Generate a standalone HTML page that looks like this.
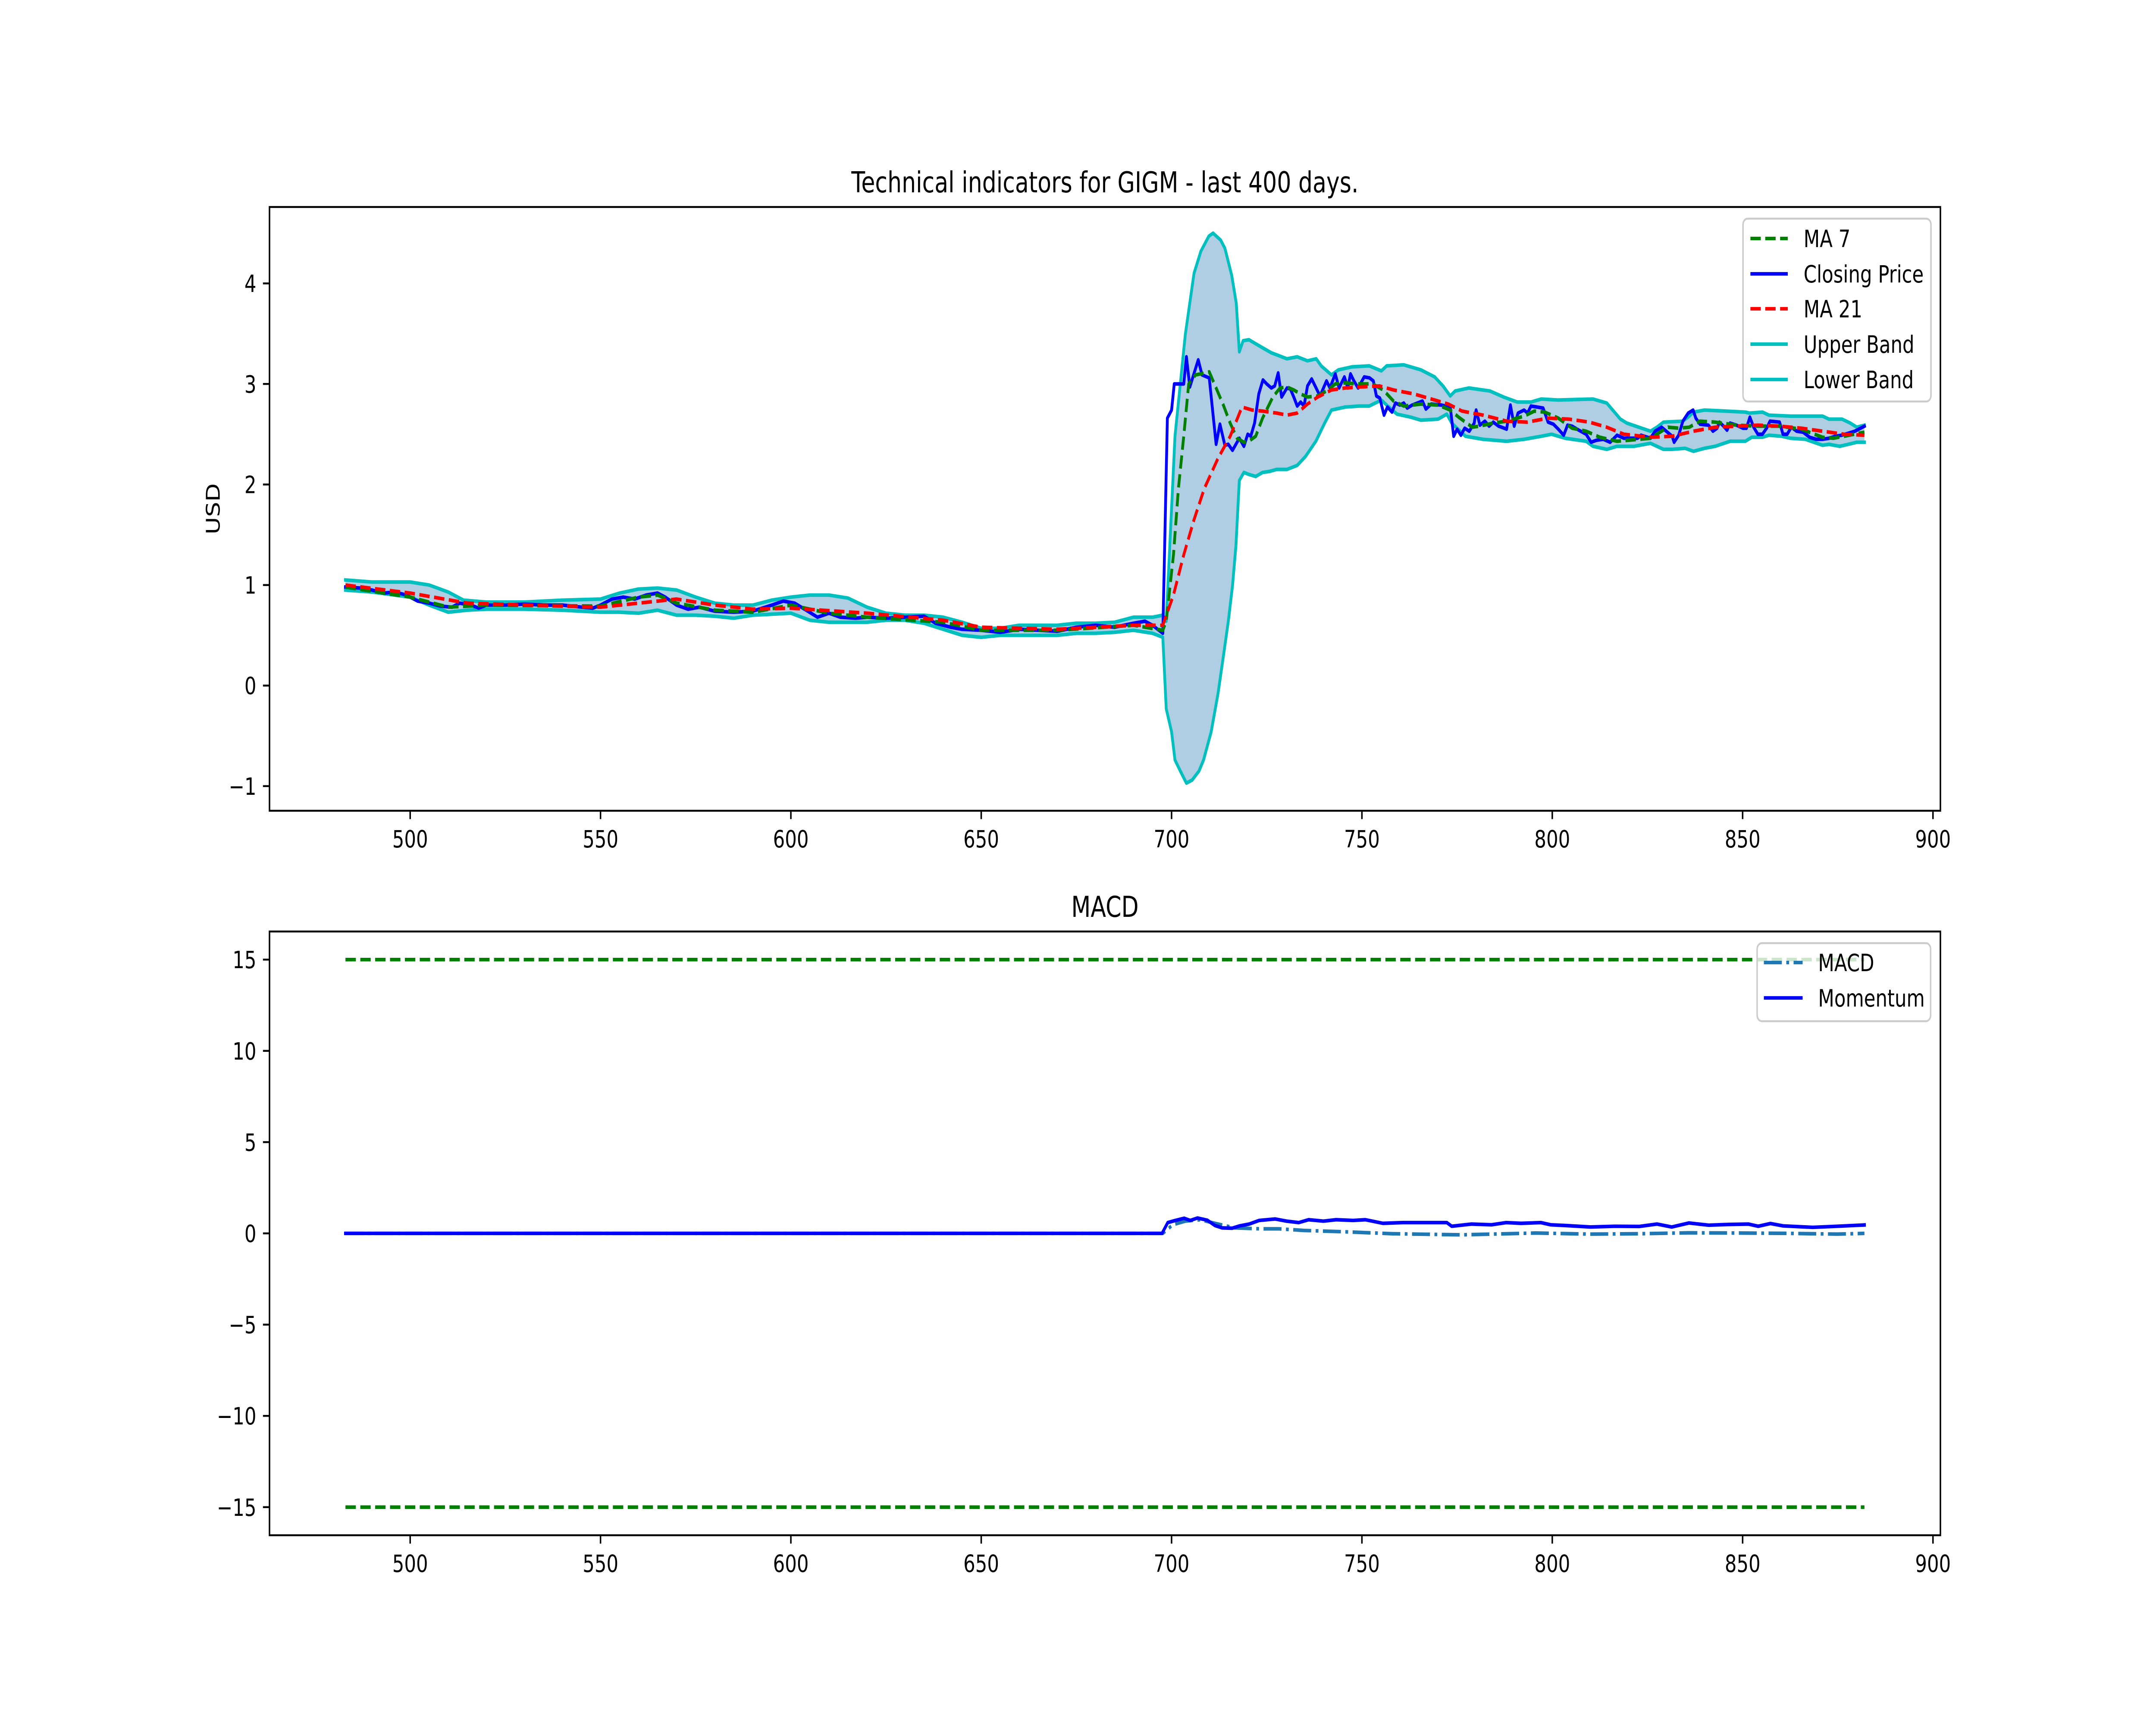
<!DOCTYPE html>
<html><head><meta charset="utf-8"><style>
html,body{margin:0;padding:0;background:#fff;overflow:hidden;width:100%;height:100%;}
svg{display:block;width:100vw;height:100vh;font-family:"DejaVu Sans","Liberation Sans",sans-serif;}
</style></head><body>
<svg id="fig" viewBox="0 0 6400 4000" preserveAspectRatio="none" xmlns="http://www.w3.org/2000/svg">
<rect x="0" y="0" width="6400" height="4000" fill="#fff"/>
<g id="topg"></g>
<g id="botg"></g>
</svg>
<script>
const closeDays=[483,487,490,493,496,499,502,505,508,511,513,516,518,520,525,530,535,540,545,548,550,553,556,559,562,565,567,570,573,576,580,585,590,595,598,601,604,607,610,613,617,620,625,630,635,638,642,645,650,655,660,665,670,675,680,685,690,693,695,697.7,698.9,700,700.7,703.2,703.9,704.8,707,708,709.9,711.7,712.7,714,714.9,716,717.8,719,720,720.8,721.8,722.9,724,725,726.2,727.1,728,728.9,730.3,731.2,732.1,733,733.9,734.8,735.7,736.8,739,740.7,741.6,743,744,745.4,746.3,747,747.9,749,750.6,752,753,753.8,754.7,755.8,756.7,757.9,758.8,760,761,761.9,763.2,765.9,766.8,768.2,770.9,773.2,774.1,775,776,777,778.2,779.5,780,781,782.3,783.4,784.5,785.9,786.7,788,789,790,791,792.6,793.5,794.4,796,797.6,798.9,800.3,801.6,803,804,805.2,807,808.9,810.2,811.6,813.4,815.2,817,818.8,822.4,823.3,825.8,827,828.7,831.5,832,833.2,834.3,835.7,837,837.7,838.8,841,842.2,843.3,843.9,845,845.9,846.7,848.4,850.1,851,851.9,852.9,854,855.2,856.3,857.2,859.7,860.6,861.7,862.8,864.2,865.9,867.6,869.3,871,872.7,874.4,876,877.8,879.5,882];
const closeVals=[0.98,0.97,0.95,0.92,0.93,0.9,0.84,0.82,0.79,0.78,0.82,0.8,0.77,0.8,0.8,0.81,0.8,0.8,0.78,0.77,0.8,0.86,0.88,0.86,0.9,0.92,0.88,0.8,0.76,0.78,0.74,0.73,0.74,0.8,0.84,0.82,0.75,0.68,0.72,0.68,0.67,0.68,0.67,0.68,0.69,0.62,0.58,0.56,0.55,0.53,0.56,0.55,0.54,0.58,0.6,0.58,0.62,0.64,0.6,0.52,2.66,2.74,3.0,3.0,3.27,2.97,3.24,3.09,3.06,2.40,2.6,2.39,2.40,2.34,2.46,2.38,2.5,2.48,2.61,2.9,3.04,3.0,2.96,2.98,3.11,2.87,2.96,2.95,2.87,2.78,2.82,2.78,2.98,3.05,2.88,3.03,2.96,3.1,2.96,3.07,2.96,3.1,3.03,2.96,3.07,3.06,3.03,2.88,2.86,2.69,2.77,2.72,2.81,2.79,2.81,2.76,2.79,2.83,2.75,2.8,2.79,2.77,2.48,2.55,2.49,2.56,2.53,2.61,2.74,2.59,2.63,2.58,2.62,2.58,2.57,2.55,2.79,2.58,2.71,2.74,2.71,2.78,2.77,2.76,2.62,2.6,2.55,2.49,2.59,2.58,2.54,2.5,2.42,2.44,2.45,2.42,2.49,2.46,2.46,2.49,2.46,2.53,2.57,2.48,2.42,2.49,2.63,2.71,2.74,2.66,2.6,2.59,2.53,2.56,2.62,2.58,2.54,2.61,2.59,2.56,2.56,2.67,2.57,2.5,2.5,2.56,2.63,2.62,2.5,2.5,2.57,2.53,2.52,2.47,2.45,2.45,2.46,2.48,2.49,2.51,2.53,2.58];

const ma7Days=[483,500,510,520,550,560,565,570,580,590,600,610,620,640,650,670,690,697.7,698.6,700.5,701.8,703.2,704.5,706.3,707.7,709.9,711.7,713.6,715.4,717.2,719,720.3,722.1,723.9,726.6,728.5,730.3,732.1,733.9,735.7,738.4,741.1,743,745.6,749.2,752.8,755.6,758.3,761,765.5,770,773.2,775.4,779,780.8,784.5,788,792.6,795.3,798,801.6,805.2,808.9,812.5,817,825.8,828.7,830.4,833.2,836,838.8,842.8,848.4,854.1,859.7,865.4,871,873.8,876.6,882];
const ma7Vals=[0.98,0.88,0.78,0.8,0.79,0.88,0.9,0.82,0.75,0.73,0.8,0.72,0.68,0.63,0.55,0.55,0.6,0.55,0.64,1.30,1.96,2.48,3.0,3.09,3.10,3.12,2.96,2.79,2.61,2.46,2.42,2.43,2.48,2.66,2.87,2.96,2.97,2.94,2.90,2.87,2.88,2.94,3.0,3.01,3.0,3.0,2.94,2.83,2.78,2.80,2.79,2.74,2.67,2.57,2.58,2.61,2.63,2.68,2.73,2.72,2.66,2.56,2.53,2.47,2.43,2.46,2.53,2.57,2.56,2.57,2.63,2.62,2.59,2.58,2.58,2.55,2.47,2.46,2.48,2.52];

const ma21Days=[483,500,515,530,550,560,570,580,590,600,620,640,650,670,690,697.7,700.5,703.2,705.9,708.6,712.2,715.4,718.5,721.2,723.9,727.6,730.3,733,735.7,738.4,742,745.6,749.2,754.6,758.3,763.7,769.1,772.7,776.3,781.8,788,793.5,798.9,804.3,809.8,814.3,818.8,825.8,831.5,837.1,842.8,848.4,854.1,859.7,865.4,871,876.6,882];
const ma21Vals=[1.0,0.92,0.82,0.8,0.78,0.82,0.86,0.8,0.76,0.77,0.72,0.65,0.58,0.56,0.6,0.6,0.90,1.30,1.65,1.96,2.26,2.48,2.77,2.74,2.73,2.71,2.69,2.71,2.80,2.87,2.94,2.96,2.97,2.98,2.94,2.90,2.84,2.80,2.73,2.69,2.63,2.62,2.66,2.65,2.62,2.57,2.50,2.47,2.48,2.53,2.57,2.58,2.59,2.58,2.56,2.53,2.50,2.49];

const upperDays=[483,490,500,505,510,514,520,530,540,550,555,560,565,570,575,580,585,590,595,600,605,610,615,620,625,630,635,640,645,650,655,660,665,670,675,680,685,690,695,697.7,698.6,700.9,703.6,705.9,707.7,709.8,710.9,712.9,714,715.8,717,717.8,718.8,720.3,722.1,723.9,726.2,727.6,730.3,733,735.7,738,739.3,742,743.8,747.4,751.9,755.1,756.5,761,765.5,769.1,771.3,773.2,774.5,778.1,783.6,787.2,790.8,794.4,797.1,801.6,810.7,814.3,817.9,819.6,825.8,827.5,829.2,834.3,836,837.1,840,845.6,850.7,851.8,855.2,856.9,862.5,871,872.7,876.1,878.3,880,882];
const upperVals=[1.05,1.03,1.03,1.0,0.93,0.85,0.83,0.83,0.85,0.86,0.92,0.96,0.97,0.95,0.88,0.82,0.8,0.8,0.85,0.88,0.9,0.9,0.87,0.78,0.72,0.7,0.7,0.68,0.63,0.57,0.57,0.6,0.6,0.6,0.62,0.62,0.63,0.68,0.68,0.70,0.64,2.48,3.49,4.10,4.32,4.47,4.50,4.43,4.35,4.08,3.80,3.32,3.43,3.44,3.40,3.36,3.31,3.29,3.25,3.27,3.23,3.25,3.18,3.09,3.14,3.17,3.18,3.13,3.18,3.19,3.14,3.07,2.98,2.88,2.93,2.96,2.93,2.87,2.82,2.82,2.85,2.84,2.85,2.81,2.65,2.61,2.53,2.57,2.62,2.63,2.68,2.72,2.74,2.73,2.72,2.71,2.72,2.69,2.68,2.68,2.65,2.65,2.61,2.57,2.59];

const lowerDays=[483,490,500,505,510,515,520,530,540,550,555,560,565,570,575,580,585,590,595,600,605,610,615,620,625,630,635,640,645,650,655,660,665,670,675,680,685,690,695,697.7,698.6,700,700.9,702.3,703.9,705.4,707.2,708.4,710.4,712.2,713.6,714.9,716,716.9,717.8,719,720.3,722.1,723.9,725.7,727.6,730.3,733,735.2,737.9,740.2,742,745.6,749.2,751.9,755.1,756.5,759.2,762.8,765.5,770,772.3,773.6,777.2,781.8,788,792.6,797.1,799.8,803.4,808.9,810.7,814.3,817,821.5,825.8,827.5,829.2,831.5,834.9,837.1,840,842.8,846.7,850.7,852.4,855.2,856.9,860.3,862.5,866.5,868.7,871,872.7,875.5,877.8,880,882];
const lowerVals=[0.95,0.93,0.88,0.8,0.73,0.75,0.76,0.76,0.75,0.73,0.73,0.72,0.75,0.7,0.7,0.69,0.67,0.7,0.71,0.72,0.65,0.63,0.63,0.63,0.65,0.65,0.62,0.56,0.5,0.48,0.5,0.5,0.5,0.5,0.52,0.52,0.53,0.55,0.52,0.48,-0.23,-0.46,-0.74,-0.85,-0.97,-0.94,-0.85,-0.74,-0.46,-0.08,0.29,0.64,0.99,1.39,2.04,2.12,2.10,2.08,2.12,2.13,2.15,2.15,2.19,2.28,2.43,2.61,2.74,2.77,2.78,2.78,2.84,2.79,2.70,2.67,2.64,2.65,2.70,2.61,2.48,2.45,2.43,2.45,2.48,2.50,2.46,2.43,2.38,2.35,2.38,2.38,2.41,2.38,2.35,2.35,2.36,2.33,2.36,2.38,2.43,2.43,2.47,2.47,2.49,2.48,2.46,2.45,2.42,2.39,2.40,2.38,2.40,2.42,2.42];

const momDays=[483,697.5,699,701,703.3,704.9,706.8,709.4,711.4,713.3,715.9,717.9,720.4,723,727.2,730.2,733.4,736,739.9,743.2,747.7,750.9,755.5,760.7,772.3,773.6,778.8,784,787.9,791.8,797,799.6,803.5,810,816.5,822.9,827.5,831.4,835.9,841.1,846.3,851.5,854.1,857.3,860.6,868.4,874.9,882];
const momVals=[0,0,0.59,0.71,0.83,0.71,0.84,0.72,0.43,0.30,0.28,0.41,0.51,0.71,0.79,0.67,0.59,0.75,0.67,0.75,0.71,0.75,0.55,0.59,0.59,0.39,0.51,0.47,0.59,0.55,0.59,0.47,0.43,0.35,0.39,0.38,0.51,0.35,0.57,0.45,0.49,0.51,0.39,0.54,0.41,0.33,0.39,0.46];
const macdDays=[483,697.7,700.3,703.6,707.5,711.4,716.6,723,728.2,734.7,745.1,758,776.2,784,795.7,810,823,835.9,848.9,861.9,874.9,882];
const macdVals=[0,0,0.47,0.67,0.75,0.55,0.30,0.25,0.25,0.16,0.09,-0.02,-0.08,-0.04,0.02,-0.04,-0.02,0.03,0.02,0,-0.04,0];
const bandDays=[483,882];
const upperLimit=[15,15];
const lowerLimit=[-15,-15];

const xTicks=[500,550,600,650,700,750,800,850,900];
const yTicksTop=[-1,0,1,2,3,4];
const yTicksBot=[-15,-10,-5,0,5,10,15];

const NS='http://www.w3.org/2000/svg';
const XMIN=463.05,XMAX=901.95,L=800,R=5760;
const TT=480,TB=1880,BT=2160,BB=3560;
const TYMIN=-1.245,TYMAX=4.76,BYMIN=-16.54,BYMAX=16.54;
function xs(d){return L+(d-XMIN)/(XMAX-XMIN)*(R-L);}
function yt(v){return TT+(TYMAX-v)/(TYMAX-TYMIN)*(TB-TT);}
function yb(v){return BT+(BYMAX-v)/(BYMAX-BYMIN)*(BB-BT);}
function mk(tag,attrs,parent){const e=document.createElementNS(NS,tag);for(const k in attrs)e.setAttribute(k,attrs[k]);parent.appendChild(e);return e;}
function pts(days,vals,yf){return days.map((d,i)=>xs(d).toFixed(1)+','+yf(vals[i]).toFixed(1)).join(' ');}
function fmt(v){return v<0?'\u2212'+Math.abs(v):String(v);}

const gTop=document.getElementById('topg');
const gBot=document.getElementById('botg');

const fillPts=pts(upperDays,upperVals,yt)+' '+pts(lowerDays.slice().reverse(),lowerVals.slice().reverse(),yt);
const fillEl=mk('polygon',{points:fillPts,fill:'#afcde3',stroke:'none'},gTop);



function series(g,days,vals,yf,color,dash,name){
  const p=mk('polyline',{points:pts(days,vals,yf),fill:'none',stroke:color,'stroke-width':8.33,'stroke-linejoin':'round','stroke-linecap':dash?'butt':'square'},g);
  if(dash)p.setAttribute('stroke-dasharray',dash);
  
  
  return p;
}
series(gTop,upperDays,upperVals,yt,'#00bfbf',null,'upper-band-line');
series(gTop,lowerDays,lowerVals,yt,'#00bfbf',null,'lower-band-line');
series(gTop,closeDays,closeVals,yt,'#0000ff',null,'closing-price-line');
series(gTop,ma7Days,ma7Vals,yt,'#008000','30.8 13.3','ma7-line');
series(gTop,ma21Days,ma21Vals,yt,'#ff0000','30.8 13.3','ma21-line');

series(gBot,bandDays,upperLimit,yb,'#008000','30.8 13.3','upper-limit-line');
series(gBot,bandDays,lowerLimit,yb,'#008000','30.8 13.3','lower-limit-line');
series(gBot,macdDays,macdVals,yb,'#1f77b4','53.3 13.3 8.3 13.3','macd-line');
series(gBot,momDays,momVals,yb,'#0000ff',null,'momentum-line');

function axes(g,T,B,yf,yTicks,title,titleY,prefix){
  const f=mk('rect',{x:L,y:T,width:R-L,height:B-T,fill:'none',stroke:'#000','stroke-width':4.44},g);
  
  
  xTicks.forEach(t=>{
    const x=xs(t);
    mk('line',{x1:x,y1:B,x2:x,y2:B+19.4,stroke:'#000','stroke-width':4.44},g);
    const tx=mk('text',{x:x,y:B+85,'font-size':55.6,'text-anchor':'middle',fill:'#000'},g);
    tx.textContent=fmt(t);
    
    
  });
  yTicks.forEach(t=>{
    const y=yf(t);
    mk('line',{x1:L,y1:y,x2:L-19.4,y2:y,stroke:'#000','stroke-width':4.44},g);
    const tx=mk('text',{x:L-39,y:y+20,'font-size':55.6,'text-anchor':'end',fill:'#000'},g);
    tx.textContent=fmt(t);
    
    
  });
  const tt=mk('text',{x:(L+R)/2,y:titleY,'font-size':66.7,'text-anchor':'middle',fill:'#000'},g);
  tt.textContent=title;
  
  
}
axes(gTop,TT,TB,yt,yTicksTop,'Technical indicators for GIGM - last 400 days.',446,'price');
axes(gBot,BT,BB,yb,yTicksBot,'MACD',2126,'macd');

const yl=mk('text',{x:0,y:0,'font-size':55.6,'text-anchor':'middle',fill:'#000',transform:'translate(652,1180) rotate(-90)'},gTop);
yl.textContent='USD';



function legend(g,x,y,w,h,entries,hx1,hx2,tx,prefix){
  const r=mk('rect',{x:x,y:y,width:w,height:h,rx:14,ry:14,fill:'#fff','fill-opacity':0.8,stroke:'#cccccc','stroke-width':4.44},g);
  
  
  entries.forEach(en=>{
    const l=mk('line',{x1:hx1,y1:en.y,x2:hx2,y2:en.y,stroke:en.c,'stroke-width':8.33},g);
    if(en.d)l.setAttribute('stroke-dasharray',en.d);
    
    
    const t=mk('text',{x:tx,y:en.y+20,'font-size':55.6,fill:'#000'},g);
    t.textContent=en.t;
    
    
  });
}
legend(gTop,5174,507,558,424,[
  {y:553,c:'#008000',d:'30.8 13.3',t:'MA 7'},
  {y:635,c:'#0000ff',d:null,t:'Closing Price'},
  {y:716,c:'#ff0000',d:'30.8 13.3',t:'MA 21'},
  {y:798,c:'#00bfbf',d:null,t:'Upper Band'},
  {y:880,c:'#00bfbf',d:null,t:'Lower Band'}],5196,5307,5354,'price');
legend(gBot,5216,2187,515,181,[
  {y:2232,c:'#1f77b4',d:'53.3 13.3 8.3 13.3',t:'MACD'},
  {y:2314,c:'#0000ff',d:null,t:'Momentum'}],5236,5351,5397,'macd');
</script>
</body></html>
